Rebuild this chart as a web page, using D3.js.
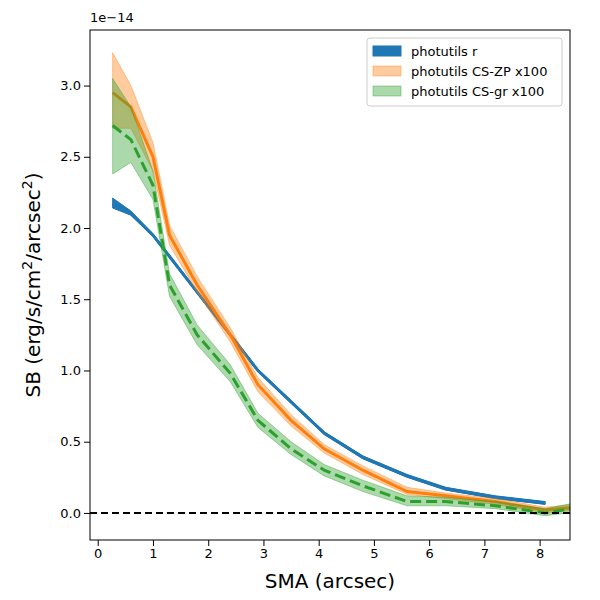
<!DOCTYPE html>
<html><head><meta charset="utf-8">
<script src="https://d3js.org/d3.v7.min.js"></script>
<style>body{margin:0;font-family:"DejaVu Sans",sans-serif;}</style>
</head><body><div id="chart"></div>
<script>
// Data (SB in units of 1e-14)
var sma = [0.27, 0.6, 1.0, 1.3, 1.8, 2.4, 2.9, 3.5, 4.1, 4.8, 5.6, 6.3, 7.2, 8.1, 8.9];
var rMid = [2.17, 2.1, 1.95, 1.8, 1.55, 1.25, 1.0, 0.78, 0.56, 0.39, 0.26, 0.17, 0.11, 0.07];
var rLo  = [2.14, 2.09, 1.94, 1.79, 1.54, 1.24, 0.99, 0.77, 0.55, 0.38, 0.25, 0.16, 0.10, 0.06];
var rHi  = [2.21, 2.12, 1.96, 1.81, 1.56, 1.26, 1.01, 0.79, 0.57, 0.40, 0.27, 0.18, 0.12, 0.08];
var zpMid = [2.95, 2.85, 2.5, 1.95, 1.6, 1.25, 0.9, 0.65, 0.45, 0.3, 0.15, 0.12, 0.08, 0.02, 0.05];
var zpLo  = [2.7, 2.7, 2.4, 1.88, 1.55, 1.2, 0.85, 0.61, 0.42, 0.27, 0.13, 0.10, 0.06, 0.0, 0.03];
var zpHi  = [3.23, 3.0, 2.6, 2.02, 1.66, 1.3, 0.95, 0.69, 0.48, 0.33, 0.18, 0.14, 0.10, 0.04, 0.07];
var grMid = [2.72, 2.62, 2.3, 1.6, 1.25, 0.98, 0.65, 0.45, 0.3, 0.19, 0.08, 0.08, 0.05, 0.0, 0.05];
var grLo  = [2.38, 2.46, 2.2, 1.52, 1.18, 0.92, 0.6, 0.41, 0.26, 0.15, 0.05, 0.05, 0.03, -0.02, 0.02];
var grHi  = [3.05, 2.85, 2.4, 1.68, 1.32, 1.04, 0.7, 0.5, 0.34, 0.23, 0.12, 0.11, 0.08, 0.03, 0.09];
var xTicks = [0, 1, 2, 3, 4, 5, 6, 7, 8];
var yTicks = [0.0, 0.5, 1.0, 1.5, 2.0, 2.5, 3.0];

var margin = {top: 30, right: 30, bottom: 60, left: 90};
var width = 600 - margin.left - margin.right;
var height = 600 - margin.top - margin.bottom;

var svg = d3.select("#chart").append("svg").attr("width", 600).attr("height", 600);
svg.append("defs").append("clipPath").attr("id", "clip")
  .append("rect").attr("width", width).attr("height", height);
var g = svg.append("g").attr("transform", `translate(${margin.left},${margin.top})`);

var x = d3.scaleLinear().domain([-0.14, 8.55]).range([0, width]);
var y = d3.scaleLinear().domain([-0.19, 3.39]).range([height, 0]);

var plot = g.append("g").attr("clip-path", "url(#clip)");

function band(lo, hi, fill, op) {
  var area = d3.area().x((d, i) => x(sma[i])).y0((d, i) => y(lo[i])).y1((d, i) => y(hi[i]));
  plot.append("path").datum(lo).attr("d", area)
    .attr("fill", fill).attr("fill-opacity", op).attr("stroke", fill).attr("stroke-opacity", op);
}
function line(vals, color, dash) {
  var l = d3.line().x((d, i) => x(sma[i])).y(d => y(d));
  plot.append("path").datum(vals).attr("d", l).attr("fill", "none")
    .attr("stroke", color).attr("stroke-width", 3).attr("stroke-dasharray", dash || null);
}

band(rLo, rHi, "#1f77b4", 1);
line(rMid, "#1f77b4");
band(zpLo, zpHi, "#ff7f0e", 0.4);
line(zpMid, "#ff7f0e");
band(grLo, grHi, "#2ca02c", 0.4);
line(grMid, "#2ca02c", "11,5");

// zero line
plot.append("line").attr("x1", 0).attr("x2", width).attr("y1", y(0)).attr("y2", y(0))
  .attr("stroke", "black").attr("stroke-width", 2).attr("stroke-dasharray", "7,4");

var xAxis = g.append("g").attr("transform", `translate(0,${height})`)
  .call(d3.axisBottom(x).tickValues(xTicks).tickFormat(d3.format("d")).tickSizeOuter(0));
var yAxis = g.append("g")
  .call(d3.axisLeft(y).tickValues(yTicks).tickFormat(d3.format(".1f")).tickSizeOuter(0));
[xAxis, yAxis].forEach(a => {
  a.selectAll("text").attr("font-size", 13).attr("font-family", "DejaVu Sans").attr("fill", "black");
  a.select(".domain").remove();
});
g.append("rect").attr("width", width).attr("height", height)
  .attr("fill", "none").attr("stroke", "black");

g.append("text").attr("x", 0).attr("y", -8).attr("font-size", 13).text("1e\u221214");

g.append("text").attr("x", width / 2).attr("y", height + 48).attr("text-anchor", "middle")
  .attr("font-size", 20).text("SMA (arcsec)");
var yl = g.append("text").attr("transform", `translate(-50,${height / 2}) rotate(-90)`)
  .attr("text-anchor", "middle").attr("font-size", 20);
yl.append("tspan").text("SB (erg/s/cm");
yl.append("tspan").attr("font-size", 14).attr("dy", -8).text("2");
yl.append("tspan").attr("dy", 8).text("/arcsec");
yl.append("tspan").attr("font-size", 14).attr("dy", -8).text("2");
yl.append("tspan").attr("dy", 8).text(")");

// legend
var names = ["photutils r", "photutils CS-ZP x100", "photutils CS-gr x100"];
var colors = ["#1f77b4", "#ff7f0e", "#2ca02c"];
var ops = [1, 0.4, 0.4];
var lg = g.append("g").attr("transform", `translate(${width - 203},8)`);
lg.append("rect").attr("width", 195).attr("height", 68).attr("rx", 3)
  .attr("fill", "white").attr("fill-opacity", 0.8).attr("stroke", "#ccc");
names.forEach((n, i) => {
  lg.append("rect").attr("x", 6).attr("y", 8 + i * 20).attr("width", 28).attr("height", 10)
    .attr("fill", colors[i]).attr("fill-opacity", ops[i]).attr("stroke", colors[i]).attr("stroke-opacity", ops[i]);
  lg.append("text").attr("x", 44).attr("y", 18 + i * 20).attr("font-size", 13).text(n);
});
</script></body></html>
